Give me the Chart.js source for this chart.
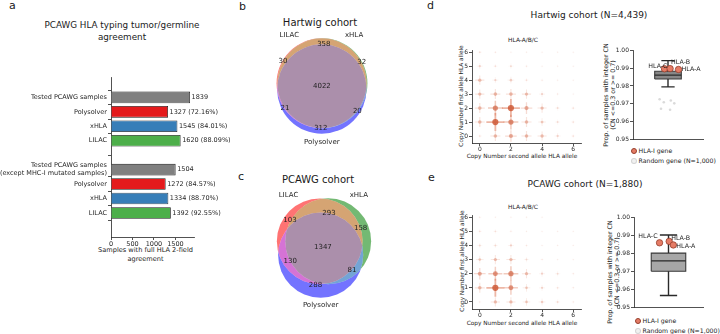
<!DOCTYPE html>
<html>
<head>
<meta charset="utf-8">
<title>HLA typing agreement and HLA copy number</title>
<script src="https://cdn.jsdelivr.net/npm/chart.js@4.4.1/dist/chart.umd.min.js"></script>
<style>
html, body { margin: 0; padding: 0; background: #fff; }
body { position: relative; width: 720px; height: 334px; overflow: hidden; font-family: 'DejaVu Sans', sans-serif; color: #1a1a1a; }
canvas { position: absolute; }
.t { position: absolute; white-space: nowrap; }
.c { transform: translate(-50%, -50%); text-align: center; }
.v { transform: translate(-50%, -50%) rotate(-90deg); text-align: center; }
.letter { font-size: 11px; line-height: 11px; }
.legend { position: absolute; font-size: 6.2px; line-height: 10px; white-space: nowrap; }
.mk { display: inline-block; width: 6px; height: 6px; border-radius: 50%; margin-right: 2px; vertical-align: -1px; box-sizing: border-box; }
.mk.hla { background: rgb(229,124,102); border: 0.8px solid rgb(150,62,44); }
.mk.rnd { background: rgba(215,215,215,0.35); border: 0.8px solid rgba(190,190,190,0.6); }
</style>
</head>
<body>

<!-- panel letters and titles -->
<div class="t letter" style="left:9px;top:0px">a</div>
<div class="t letter" style="left:239px;top:0.7px">b</div>
<div class="t letter" style="left:238px;top:170.7px">c</div>
<div class="t letter" style="left:427px;top:0px">d</div>
<div class="t letter" style="left:428px;top:171.7px">e</div>

<div class="t c" style="left:122px;top:31px;font-size:8.8px;line-height:12px">PCAWG HLA typing tumor/germline<br>agreement</div>
<div class="t c" style="left:320px;top:23px;font-size:10px;line-height:10px">Hartwig cohort</div>
<div class="t c" style="left:318px;top:180px;font-size:10px;line-height:10px">PCAWG cohort</div>
<div class="t c" style="left:589px;top:15px;font-size:9px;line-height:9px">Hartwig cohort (N=4,439)</div>
<div class="t c" style="left:585px;top:184px;font-size:9px;line-height:9px">PCAWG cohort (N=1,880)</div>
<div class="t c" style="left:523px;top:40px;font-size:5.9px;line-height:6px">HLA-A/B/C</div>
<div class="t c" style="left:523px;top:207px;font-size:5.9px;line-height:6px">HLA-A/B/C</div>

<!-- axis titles -->
<div class="t c" style="left:145.5px;top:255px;font-size:6.6px;line-height:8.6px">Samples with full HLA 2-field<br>agreement</div>
<div class="t c" style="left:522px;top:156px;font-size:5.8px;line-height:6px">Copy Number second allele  HLA allele</div>
<div class="t c" style="left:522px;top:323px;font-size:5.8px;line-height:6px">Copy Number second allele  HLA allele</div>
<div class="t v" style="left:461px;top:96px;font-size:5.8px;line-height:6px">Copy Number first allele HLA allele</div>
<div class="t v" style="left:462px;top:261px;font-size:5.8px;line-height:6px">Copy Number first allele HLA allele</div>
<div class="t v" style="left:608.5px;top:95px;font-size:6.3px;line-height:7px">Prop. of samples with integer CN<br>(CN &lt;=0.3 or &gt;= 0.7)</div>
<div class="t v" style="left:613px;top:272px;font-size:6.3px;line-height:7px">Prop. of samples with integer CN<br>(CN &lt;=0.3 or &gt;= 0.7)</div>

<!-- legends -->
<div class="legend" style="left:630.5px;top:146px"><span class="mk hla"></span>HLA-I gene<br><span class="mk rnd"></span>Random gene (N=1,000)</div>
<div class="legend" style="left:634.5px;top:316px"><span class="mk hla"></span>HLA-I gene<br><span class="mk rnd"></span>Random gene (N=1,000)</div>

<canvas id="barA" width="245" height="210" style="left:0px;top:60px"></canvas>
<canvas id="vennB" width="128" height="128" style="left:258px;top:28px"></canvas>
<canvas id="vennC" width="128" height="128" style="left:258px;top:186px"></canvas>
<canvas id="heatD" width="135" height="120" style="left:457px;top:40px"></canvas>
<canvas id="heatE" width="135" height="122" style="left:457px;top:205px"></canvas>
<canvas id="boxD" width="110" height="100" style="left:600px;top:44px"></canvas>
<canvas id="boxE" width="106" height="101" style="left:604px;top:211px"></canvas>

<script>
// ---- panel a: typing agreement ----
const toolNames = ['Polysolver', 'xHLA', 'LILAC'];
const testedAll = 1839;
const agreeAll = [1327, 1545, 1620];
const testedNonMutated = 1504;
const agreeNonMutated = [1272, 1334, 1392];
const barColors = ['#808080', '#e41a1c', '#377eb8', '#4daf4a'];
const barXTicks = [0, 500, 1000, 1500];

// ---- panels b/c: venn counts, order Abc, aBc, ABc, abC, AbC, aBC, ABC ----
const vennRegionKeys = ['100', '010', '110', '001', '101', '011', '111'];
const vennSetLabels = ['LILAC', 'xHLA', 'Polysolver'];
const hartwigVennCounts = [30, 32, 358, 312, 21, 20, 4022];
const pcawgVennCounts = [103, 158, 293, 288, 130, 81, 1347];

// ---- panels d/e: copy number density, rows = first allele CN 0..6, cols = second allele CN 0..6 ----
const heatXTicks = [0, 2, 4, 6];
const heatYTicks = [0, 1, 2, 3, 4, 5, 6];
const hartwigCnDensity = [
    [0.15, 0.5, 0.6, 0.5, 0.45, 0.25, 0.15],
    [0.5, 1.0, 0.8, 0.5, 0.35, 0.2, 0.15],
    [0.5, 0.8, 1.0, 0.6, 0.45, 0.2, 0.15],
    [0.45, 0.5, 0.5, 0.45, 0.25, 0.1, 0.05],
    [0.45, 0.25, 0.3, 0.15, 0.1, 0.05, 0.05],
    [0.25, 0.15, 0.2, 0.1, 0.05, 0.05, 0.05],
    [0.15, 0.1, 0.05, 0.05, 0.05, 0.05, 0.05]
];
const pcawgCnDensity = [
    [0.1, 0.45, 0.45, 0.35, 0.3, 0.2, 0.1],
    [0.5, 1.0, 0.75, 0.35, 0.25, 0.15, 0.1],
    [0.6, 0.75, 0.8, 0.45, 0.25, 0.2, 0.1],
    [0.35, 0.45, 0.45, 0.2, 0.1, 0.05, 0.05],
    [0.2, 0.2, 0.25, 0.1, 0.05, 0.05, 0.05],
    [0.15, 0.15, 0.1, 0.05, 0.05, 0.05, 0.05],
    [0.1, 0.05, 0.05, 0.05, 0.05, 0, 0]
];

// ---- box plots: [lower whisker, q1, median, q3, upper whisker] ----
const boxYTicks = [0.95, 0.96, 0.97, 0.98, 0.99, 1.00];
const hlaGenes = ['HLA-C', 'HLA-B', 'HLA-A'];
const hartwigBoxStats = [0.9795, 0.9839, 0.9861, 0.9883, 0.9943];
const hartwigHlaProp = [0.9897, 0.9898, 0.9893];
const hartwigHlaJitter = [-0.05, 0.03, 0.15];
const hartwigOutliers = [0.9725, 0.9718, 0.9708, 0.9702, 0.9672, 0.9666];
const hartwigOutlierJitter = [-0.12, 0.04, -0.06, 0.09, -0.1, 0.03];
const pcawgBoxStats = [0.9565, 0.9699, 0.9757, 0.9800, 0.9900];
const pcawgHlaProp = [0.9857, 0.9865, 0.9845];
const pcawgHlaJitter = [-0.13, 0.01, 0.07];

Chart.defaults.font.family = "'DejaVu Sans', sans-serif";
Chart.defaults.color = '#262626';
Chart.defaults.animation = false;
Chart.defaults.responsive = false;
Chart.defaults.plugins.legend.display = false;
Chart.defaults.plugins.tooltip.enabled = false;

const axisLine = { color: '#262626', width: 0.8 };
const tickGrid = { drawOnChartArea: false, tickLength: 3, color: '#262626', lineWidth: 0.8 };

// ---------- a ----------
const barPositions = [0, 1, 2, 3, 5, 6, 7, 8];
const barValues = [testedAll, ...agreeAll, testedNonMutated, ...agreeNonMutated];
const barTickLabels = ['Tested PCAWG samples', ...toolNames,
    ['Tested PCAWG samples', '(except MHC-I mutated samples)'], ...toolNames];
const barValueText = [String(testedAll), ...agreeAll.map(v => v + ' (' + (100 * v / testedAll).toFixed(2) + '%)'),
    String(testedNonMutated), ...agreeNonMutated.map(v => v + ' (' + (100 * v / testedNonMutated).toFixed(2) + '%)')];

const barValueLabels = {
    id: 'barValueLabels',
    afterDatasetsDraw(chart) {
        const ctx = chart.ctx;
        ctx.save();
        ctx.font = "6.5px 'DejaVu Sans'";
        ctx.fillStyle = '#262626';
        ctx.textBaseline = 'middle';
        chart.getDatasetMeta(0).data.forEach((bar, i) => ctx.fillText(barValueText[i], bar.x + 1.5, bar.y));
        ctx.restore();
    }
};

new Chart(document.getElementById('barA'), {
    type: 'bar',
    data: {
        datasets: [{
            data: barPositions.map((p, i) => ({ x: barValues[i], y: p })),
            backgroundColor: barColors.concat(barColors),
            borderColor: '#1a1a1a',
            borderWidth: 0.8,
            barPercentage: 0.8,
            categoryPercentage: 1
        }]
    },
    options: {
        indexAxis: 'y',
        layout: { padding: { top: 17, right: 51, bottom: 0, left: 0 } },
        scales: {
            y: {
                type: 'linear', reverse: true, min: -0.72, max: 8.97,
                afterBuildTicks: s => { s.ticks = barPositions.map(v => ({ value: v })); },
                afterFit: s => { s.width = 111; },
                ticks: { font: { size: 6.5 }, padding: 1, autoSkip: false, callback: v => barTickLabels[barPositions.indexOf(v)] },
                grid: tickGrid, border: axisLine
            },
            x: {
                type: 'linear', min: 0, max: Math.max(...barValues) * 1.05,
                afterBuildTicks: s => { s.ticks = barXTicks.map(v => ({ value: v })); },
                afterFit: s => { s.height = 33; },
                ticks: { font: { size: 6.5 }, padding: 0, callback: v => String(v) },
                grid: tickGrid, border: axisLine
            }
        }
    },
    plugins: [barValueLabels]
});

// ---------- b / c venn ----------
function lensArea(r1, r2, d) {
    if (d >= r1 + r2) return 0;
    if (d <= Math.abs(r1 - r2)) return Math.PI * Math.min(r1, r2) ** 2;
    const a = r1 * r1 * Math.acos((d * d + r1 * r1 - r2 * r2) / (2 * d * r1));
    const b = r2 * r2 * Math.acos((d * d + r2 * r2 - r1 * r1) / (2 * d * r2));
    const c = 0.5 * Math.sqrt((-d + r1 + r2) * (d + r1 - r2) * (d - r1 + r2) * (d + r1 + r2));
    return a + b - c;
}

function distForArea(r1, r2, area) {
    let lo = Math.abs(r1 - r2), hi = r1 + r2;
    for (let i = 0; i < 60; i++) {
        const mid = (lo + hi) / 2;
        if (lensArea(r1, r2, mid) > area) lo = mid; else hi = mid;
    }
    return (lo + hi) / 2;
}

function vennLayout(counts) {
    const total = counts.reduce((s, v) => s + v, 0);
    const share = test => counts.reduce((s, v, i) => s + (test(vennRegionKeys[i]) ? v : 0), 0) / total;
    const r = [0, 1, 2].map(k => Math.sqrt(share(key => key[k] === '1') / Math.PI));
    const pair = (a, b) => share(key => key[a] === '1' && key[b] === '1');
    const dAB = distForArea(r[0], r[1], pair(0, 1));
    const dAC = distForArea(r[0], r[2], pair(0, 2));
    const dBC = distForArea(r[1], r[2], pair(1, 2));
    let cosA = (dAB * dAB + dAC * dAC - dBC * dBC) / (2 * dAB * dAC);
    cosA = Math.max(-1, Math.min(1, cosA));
    const centers = [[0, 0], [dAB, 0], [dAC * cosA, -dAC * Math.sqrt(1 - cosA * cosA)]];
    const minX = Math.min(...centers.map((c, k) => c[0] - r[k]));
    const maxX = Math.max(...centers.map((c, k) => c[0] + r[k]));
    const minY = Math.min(...centers.map((c, k) => c[1] - r[k]));
    const maxY = Math.max(...centers.map((c, k) => c[1] + r[k]));
    const cx = (minX + maxX) / 2, cy = (minY + maxY) / 2;
    const shifted = centers.map(c => [c[0] - cx, c[1] - cy]);

    // label spot: centroid of each region, or the nearest region point if the centroid falls outside
    const step = 0.004;
    const acc = {};
    vennRegionKeys.forEach(k => { acc[k] = { sx: 0, sy: 0, n: 0, pts: [] }; });
    for (let x = -0.75; x <= 0.75; x += step) {
        for (let y = -0.75; y <= 0.75; y += step) {
            const key = shifted.map((c, k) => ((x - c[0]) ** 2 + (y - c[1]) ** 2 <= r[k] * r[k]) ? '1' : '0').join('');
            const a = acc[key];
            if (!a) continue;
            a.sx += x; a.sy += y; a.n++; a.pts.push([x, y]);
        }
    }
    const spots = vennRegionKeys.map(k => {
        const a = acc[k];
        if (!a.n) return [0, 0];
        const gx = a.sx / a.n, gy = a.sy / a.n;
        const inside = shifted.every((c, j) => (((gx - c[0]) ** 2 + (gy - c[1]) ** 2 <= r[j] * r[j]) ? '1' : '0') === k[j]);
        if (inside) return [gx, gy];
        let best = a.pts[0], bd = Infinity;
        a.pts.forEach(p => { const d = (p[0] - gx) ** 2 + (p[1] - gy) ** 2; if (d < bd) { bd = d; best = p; } });
        return best;
    });
    return { r, centers: shifted, spots };
}

const vennBaseColors = [[255, 0, 0], [0, 128, 0], [0, 0, 255]];
function regionColor(key) {
    const on = vennBaseColors.filter((c, k) => key[k] === '1');
    const f = on.length === 1 ? 1 : on.length === 2 ? 0.7 : 0.4;
    const mix = [0, 1, 2].map(j => Math.round(Math.min(255, f * on.reduce((s, c) => s + c[j], 0))));
    return 'rgba(' + mix.join(',') + ',0.55)';
}

function vennPlugin(lay, counts) {
    return {
        id: 'venn',
        afterDatasetsDraw(chart) {
            const { ctx, scales: { x, y } } = chart;
            const unit = x.getPixelForValue(1) - x.getPixelForValue(0);
            const circ = lay.centers.map((c, k) => ({ px: x.getPixelForValue(c[0]), py: y.getPixelForValue(c[1]), r: lay.r[k] * unit }));
            vennRegionKeys.forEach(key => {
                ctx.save();
                circ.forEach((c, k) => {
                    ctx.beginPath();
                    if (key[k] === '1') {
                        ctx.arc(c.px, c.py, c.r, 0, 2 * Math.PI);
                        ctx.clip();
                    } else {
                        ctx.rect(0, 0, chart.width, chart.height);
                        ctx.arc(c.px, c.py, c.r, 0, 2 * Math.PI);
                        ctx.clip('evenodd');
                    }
                });
                ctx.fillStyle = regionColor(key);
                ctx.fillRect(0, 0, chart.width, chart.height);
                ctx.restore();
            });
            ctx.save();
            ctx.fillStyle = '#1f1f1f';
            ctx.font = "7px 'DejaVu Sans'";
            ctx.textAlign = 'center';
            ctx.textBaseline = 'middle';
            lay.spots.forEach((s, i) => ctx.fillText(String(counts[i]), x.getPixelForValue(s[0]), y.getPixelForValue(s[1])));
            const [A, B, C] = lay.centers, [rA, rB, rC] = lay.r;
            ctx.textBaseline = 'alphabetic';
            ctx.textAlign = 'right';
            ctx.fillText(vennSetLabels[0], x.getPixelForValue(A[0] - rA / 2), y.getPixelForValue(A[1] + 1.03 * rA));
            ctx.textAlign = 'left';
            ctx.fillText(vennSetLabels[1], x.getPixelForValue(B[0] + rB / 2), y.getPixelForValue(B[1] + 1.03 * rB));
            ctx.textAlign = 'center';
            ctx.textBaseline = 'top';
            ctx.fillText(vennSetLabels[2], x.getPixelForValue(C[0]), y.getPixelForValue(C[1] - 1.1 * rC));
            ctx.restore();
        }
    };
}

function vennChart(id, counts, box) {
    const lay = vennLayout(counts);
    const s = box.scale;
    new Chart(document.getElementById(id), {
        type: 'scatter',
        data: { datasets: [] },
        options: {
            layout: { padding: 0 },
            scales: {
                x: { type: 'linear', display: false, min: -box.cx / s, max: (box.w - box.cx) / s },
                y: { type: 'linear', display: false, min: -(box.h - box.cy) / s, max: box.cy / s }
            }
        },
        plugins: [vennPlugin(lay, counts)]
    });
}

vennChart('vennB', hartwigVennCounts, { w: 128, h: 128, cx: 64, cy: 58, scale: 83 });
vennChart('vennC', pcawgVennCounts, { w: 128, h: 128, cx: 66, cy: 62, scale: 86 });

// ---------- d / e copy number ----------
function heatChart(id, density, pad) {
    const cells = [];
    density.forEach((row, yi) => row.forEach((v, xi) => { if (v > 0) cells.push({ x: xi, y: yi, v }); }));
    const val = c => (c.raw ? c.raw.v : 0);
    new Chart(document.getElementById(id), {
        type: 'scatter',
        data: {
            datasets: [
                {
                    data: cells,
                    pointStyle: 'circle',
                    pointRadius: c => 0.5 + 2.6 * val(c),
                    pointBorderWidth: 0,
                    pointBackgroundColor: c => 'rgba(204,82,46,' + (0.08 + 0.72 * Math.pow(val(c), 1.3)).toFixed(3) + ')'
                },
                {
                    data: cells,
                    pointStyle: 'cross',
                    pointRadius: c => 1 + 8 * val(c),
                    pointBorderWidth: c => 0.5 + 1.3 * val(c),
                    pointBorderColor: c => 'rgba(214,96,58,' + (0.03 + 0.42 * Math.pow(val(c), 1.5)).toFixed(3) + ')',
                    pointBackgroundColor: 'rgba(0,0,0,0)'
                }
            ]
        },
        options: {
            layout: { padding: pad.layout },
            scales: {
                x: {
                    type: 'linear', min: -0.5, max: 6.5,
                    afterBuildTicks: s => { s.ticks = heatXTicks.map(v => ({ value: v })); },
                    afterFit: s => { s.height = pad.xh; },
                    ticks: { font: { size: 6 }, padding: 0 },
                    grid: tickGrid, border: axisLine
                },
                y: {
                    type: 'linear', min: -0.5, max: 6.1,
                    afterBuildTicks: s => { s.ticks = heatYTicks.map(v => ({ value: v })); },
                    afterFit: s => { s.width = 15; },
                    ticks: { font: { size: 6 }, padding: 1, autoSkip: false },
                    grid: tickGrid, border: axisLine
                }
            }
        }
    });
}

heatChart('heatD', hartwigCnDensity, { layout: { top: 4, right: 11, bottom: 0, left: 0 }, xh: 17 });
heatChart('heatE', pcawgCnDensity, { layout: { top: 5, right: 11, bottom: 0, left: 0 }, xh: 18 });

// ---------- d / e box plots ----------
function geneLabelPlugin(offsets) {
    return {
        id: 'geneLabels',
        afterDatasetsDraw(chart) {
            const ctx = chart.ctx;
            ctx.save();
            ctx.font = "6.3px 'DejaVu Sans'";
            ctx.fillStyle = '#1a1a1a';
            ctx.textBaseline = 'middle';
            chart.getDatasetMeta(0).data.forEach((pt, i) => {
                const o = offsets[i];
                ctx.textAlign = o.align;
                ctx.fillText(hlaGenes[i], pt.x + o.dx, pt.y + o.dy);
            });
            ctx.restore();
        }
    };
}

function boxChart(id, cfg) {
    const [lo, q1, med, q3, hi] = cfg.stats;
    const h = cfg.boxWidth / 2, cap = cfg.boxWidth / 4;
    const line = { showLine: true, pointRadius: 0, borderColor: '#2a2a2a', borderWidth: 1.1, spanGaps: false };
    new Chart(document.getElementById(id), {
        type: 'scatter',
        data: {
            datasets: [
                {
                    data: cfg.genes.map((v, i) => ({ x: cfg.jitter[i], y: v })),
                    pointRadius: 3.2,
                    pointBackgroundColor: 'rgb(229,124,102)',
                    pointBorderColor: 'rgb(150,62,44)',
                    pointBorderWidth: 0.8
                },
                {
                    data: cfg.outliers.map((v, i) => ({ x: cfg.outlierX[i], y: v })),
                    pointRadius: 1.3,
                    pointBorderWidth: 0,
                    pointBackgroundColor: 'rgba(150,150,150,0.35)'
                },
                Object.assign({ data: [{ x: -h, y: med }, { x: h, y: med }] }, line),
                Object.assign({
                    data: [
                        { x: 0, y: q3 }, { x: 0, y: hi }, { x: 0, y: null },
                        { x: -cap, y: hi }, { x: cap, y: hi }, { x: 0, y: null },
                        { x: 0, y: q1 }, { x: 0, y: lo }, { x: 0, y: null },
                        { x: -cap, y: lo }, { x: cap, y: lo }
                    ]
                }, line, { borderWidth: 1.4 }),
                Object.assign({
                    data: [{ x: -h, y: q1 }, { x: h, y: q1 }, { x: h, y: q3 }, { x: -h, y: q3 }, { x: -h, y: q1 }],
                    fill: 'shape',
                    backgroundColor: cfg.boxFill
                }, line, { borderColor: '#3a3a3a' })
            ]
        },
        options: {
            layout: { padding: { top: cfg.padTop, right: 7, bottom: 0, left: 0 } },
            scales: {
                x: {
                    type: 'linear', min: -0.5, max: 0.5,
                    afterFit: s => { s.height = 2; },
                    ticks: { display: false },
                    grid: { drawOnChartArea: false, drawTicks: false },
                    border: axisLine
                },
                y: {
                    type: 'linear', min: 0.95, max: 1.0,
                    afterBuildTicks: s => { s.ticks = boxYTicks.map(v => ({ value: v })); },
                    afterFit: s => { s.width = cfg.yw; },
                    ticks: { font: { size: 6 }, padding: 1, callback: v => v.toFixed(2) },
                    grid: tickGrid, border: axisLine
                }
            }
        },
        plugins: [geneLabelPlugin(cfg.labels)]
    });
}

boxChart('boxD', {
    stats: hartwigBoxStats, boxWidth: 0.38, genes: hartwigHlaProp, jitter: hartwigHlaJitter,
    outliers: hartwigOutliers, outlierX: hartwigOutlierJitter, padTop: 6.5, yw: 33,
    boxFill: 'rgba(95,95,95,0.75)',
    labels: [{ align: 'right', dx: 3, dy: -2 }, { align: 'left', dx: 1, dy: -6 }, { align: 'left', dx: 3, dy: 0 }]
});
boxChart('boxE', {
    stats: pcawgBoxStats, boxWidth: 0.5, genes: pcawgHlaProp, jitter: pcawgHlaJitter,
    outliers: [], outlierX: [], padTop: 6, yw: 30,
    boxFill: 'rgba(120,120,120,0.65)',
    labels: [{ align: 'right', dx: -2, dy: -6 }, { align: 'left', dx: 2, dy: -3 }, { align: 'left', dx: 3, dy: 1 }]
});
</script>
</body>
</html>
